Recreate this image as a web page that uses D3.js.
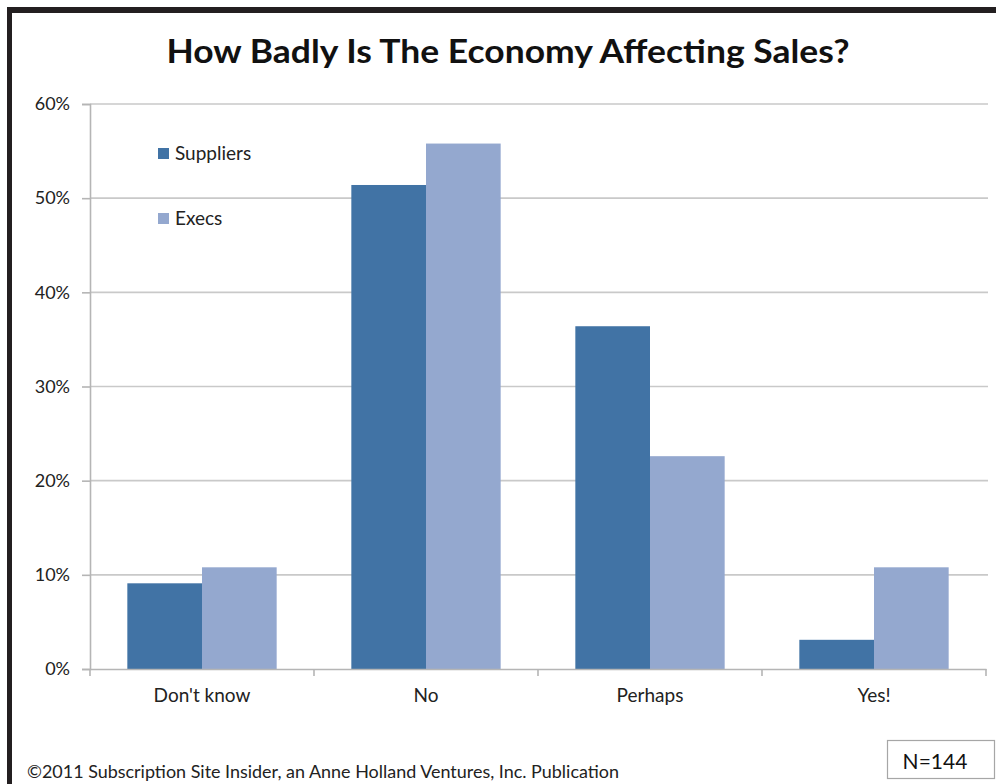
<!DOCTYPE html>
<html>
<head>
<meta charset="utf-8">
<script src="https://cdn.jsdelivr.net/npm/d3@7"></script>
<style>
  html, body { margin: 0; padding: 0; background: #fff; }
  svg { display: block; }
  text { font-family: Lato, "Open Sans", "Liberation Sans", sans-serif; }
</style>
</head>
<body>
<svg id="chart" width="996" height="784"></svg>
<script>
// Survey answers (share of respondents, %)
const categories = ["Don't know", "No", "Perhaps", "Yes!"];
const seriesNames = ["Suppliers", "Execs"];
const suppliers = [9.1, 51.4, 36.4, 3.1];
const execs = [10.8, 55.8, 22.6, 10.8];
const yTicks = [0, 10, 20, 30, 40, 50, 60];
const titleText = "How Badly Is The Economy Affecting Sales?";
const footerText = "\u00a92011  Subscription Site Insider, an Anne Holland Ventures, Inc. Publication";
const sampleText = "N=144";

const colors = ["#4173a5", "#94a8cf"];
const seriesValues = [suppliers, execs];

const svg = d3.select("#chart");
const W = 996, H = 784;

// frame
svg.append("rect").attr("x", 7).attr("y", 7).attr("width", W - 7).attr("height", 6).attr("fill", "#231f20");
svg.append("rect").attr("x", 7).attr("y", 7).attr("width", 5).attr("height", H - 7).attr("fill", "#231f20");

const plot = { left: 90, right: 986, top: 104, bottom: 669 };

const x = d3.scaleBand().domain(categories).range([plot.left, plot.right]).paddingInner(0).paddingOuter(0);
const xs = d3.scaleBand().domain(seriesNames).range([0, x.bandwidth()]).paddingInner(0).paddingOuter(0.5);
const y = d3.scaleLinear().domain([0, 60]).range([plot.bottom, plot.top]);

// gridlines
svg.append("g").selectAll("line").data(yTicks.filter(t => t > 0)).join("line")
  .attr("x1", plot.left).attr("x2", plot.right + 2)
  .attr("y1", d => y(d)).attr("y2", d => y(d))
  .attr("stroke", "#c9c9c9").attr("stroke-width", 1.6);

// y axis
const yAxis = svg.append("g").attr("transform", `translate(${plot.left},0)`)
  .call(d3.axisLeft(y).tickValues(yTicks).tickFormat(d => d + "%").tickSize(8).tickPadding(12));
yAxis.select(".domain").attr("stroke", "#b5b5b5").attr("stroke-width", 1.6);
yAxis.selectAll(".tick line").attr("stroke", "#b5b5b5").attr("stroke-width", 1.6);
yAxis.selectAll(".tick text").attr("font-size", 18).attr("fill", "#222")
  .style("font-family", "Lato, 'Open Sans', sans-serif");

// bars
const groups = svg.append("g").selectAll("g").data(categories).join("g")
  .attr("transform", d => `translate(${x(d)},0)`);
groups.selectAll("rect").data((c, i) => seriesNames.map((s, k) => ({ s, v: seriesValues[k][i], k })))
  .join("rect")
  .attr("x", d => xs(d.s))
  .attr("width", xs.bandwidth())
  .attr("y", d => y(d.v))
  .attr("height", d => y(0) - y(d.v))
  .attr("fill", d => colors[d.k]);

// x axis
const xAxis = svg.append("g").attr("transform", `translate(0,${plot.bottom})`)
  .call(d3.axisBottom(x).tickSize(0).tickPadding(20));
xAxis.select(".domain").attr("stroke", "#b5b5b5").attr("stroke-width", 1.6);
xAxis.selectAll(".tick text").attr("font-size", 19).attr("fill", "#222")
  .style("font-family", "Lato, 'Open Sans', sans-serif");
// category boundary ticks
const bounds = categories.map(c => x(c)).concat([x(categories[categories.length - 1]) + x.bandwidth()]);
svg.append("g").selectAll("line").data(bounds).join("line")
  .attr("x1", d => d).attr("x2", d => d)
  .attr("y1", plot.bottom).attr("y2", plot.bottom + 7)
  .attr("stroke", "#b5b5b5").attr("stroke-width", 1.6);

// legend
const legend = svg.append("g").selectAll("g").data(seriesNames).join("g")
  .attr("transform", (d, i) => `translate(158,${148 + i * 65})`);
legend.append("rect").attr("width", 11).attr("height", 11).attr("fill", (d, i) => colors[i]);
legend.append("text").attr("x", 17).attr("y", 12).attr("font-size", 19).attr("fill", "#222").text(d => d);

// title
svg.append("text").attr("x", 508).attr("y", 63).attr("text-anchor", "middle")
  .attr("font-size", 33).attr("font-weight", "bold").attr("fill", "#111")
  .attr("textLength", 683).attr("lengthAdjust", "spacingAndGlyphs").text(titleText);

// footer
svg.append("text").attr("x", 27).attr("y", 778).attr("font-size", 17.5).attr("fill", "#222")
  .attr("textLength", 592).attr("lengthAdjust", "spacingAndGlyphs").text(footerText);

// sample size box
svg.append("rect").attr("x", 887.5).attr("y", 740.5).attr("width", 107).attr("height", 38)
  .attr("fill", "#fff").attr("stroke", "#a6a6a6").attr("stroke-width", 1.2);
svg.append("text").attr("x", 935).attr("y", 769).attr("text-anchor", "middle")
  .attr("font-size", 21).attr("fill", "#111").text(sampleText);
</script>
</body>
</html>
